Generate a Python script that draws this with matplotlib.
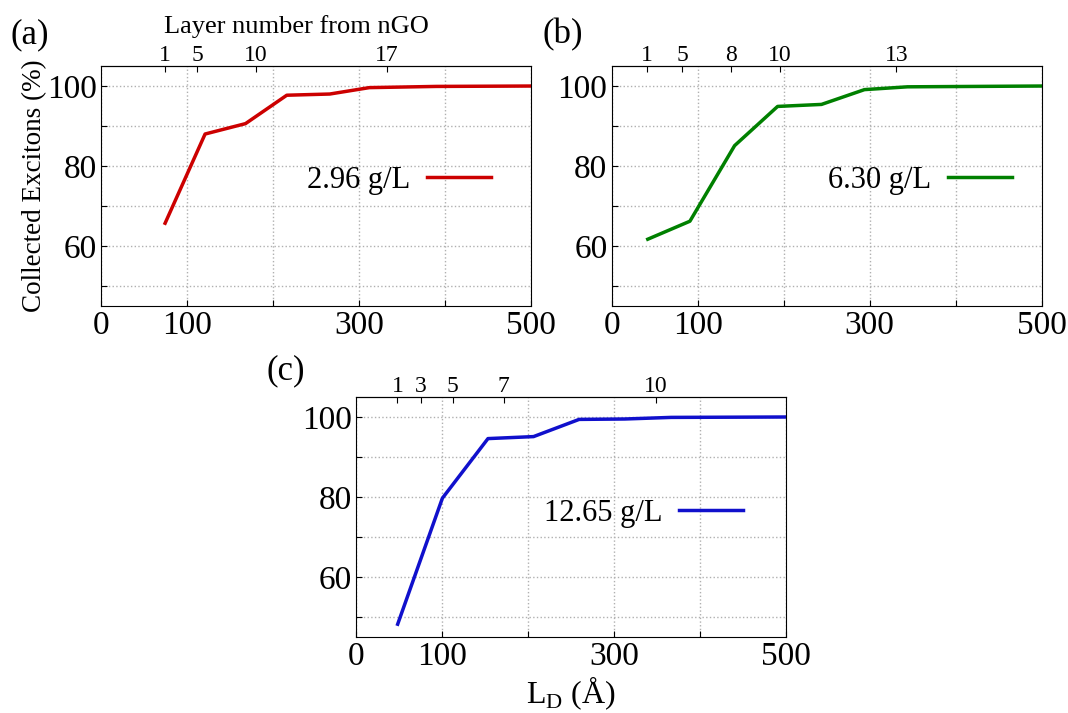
import matplotlib
matplotlib.use("Agg")
import matplotlib.pyplot as plt

plt.rcParams['font.family'] = ['Liberation Serif', 'DejaVu Serif']
plt.rcParams['mathtext.fontset'] = 'custom'
plt.rcParams['mathtext.rm'] = 'Liberation Serif'

# L_D (Angstrom) vs collected excitons (%)
ld_a = [74.5, 121, 168, 216, 266, 312, 390, 500]
ex_a = [65.7, 88.0, 90.6, 97.7, 98.0, 99.6, 99.9, 100.0]
ld_b = [42, 91, 143, 193, 244, 294, 344, 500]
ex_b = [61.7, 66.2, 85.1, 94.9, 95.4, 99.1, 99.8, 100.0]
ld_c = [48, 100, 153, 206, 259, 312, 366, 500]
ex_c = [48.2, 79.7, 94.6, 95.1, 99.4, 99.5, 99.9, 100.0]

# top axis: layer number from nGO
layer_pos_a = [74.5, 111.6, 180.3, 332.8]
layer_lab_a = ["1", "5", "10", "17"]
layer_pos_b = [41.1, 82.2, 138.5, 195.5, 331.2]
layer_lab_b = ["1", "5", "8", "10", "13"]
layer_pos_c = [47.8, 74.8, 112.1, 171.1, 348.4]
layer_lab_c = ["1", "3", "5", "7", "10"]

panels = [
    ("(a)", ld_a, ex_a, "#cc0000", "2.96 g/L", layer_pos_a, layer_lab_a,
     [0.0946, 0.5708], (-0.21, 1.13), (0.693, 0.525)),
    ("(b)", ld_b, ex_b, "#008000", "6.30 g/L", layer_pos_b, layer_lab_b,
     [0.5727, 0.5708], (-0.16, 1.13), (0.718, 0.525)),
    ("(c)", ld_c, ex_c, "#1010cc", "12.65 g/L", layer_pos_c, layer_lab_c,
     [0.3337, 0.1066], (-0.21, 1.11), (0.668, 0.515)),
]

fig = plt.figure(figsize=(10.68, 7.13), dpi=100)

for tag, x, y, col, lab, lpos, llab, pos, tpos, legpos in panels:
    ax = fig.add_axes([pos[0], pos[1], 0.4026, 0.3366])
    ax.plot(x, y, color=col, lw=2.5, label=lab)
    ax.set_xlim(0, 500)
    ax.set_ylim(45, 105)
    ax.set_xticks([0, 100, 200, 300, 400, 500])
    ax.set_xticklabels(["0", "100", "", "300", "", "500"])
    ax.set_yticks([50, 60, 70, 80, 90, 100])
    ax.set_yticklabels(["", "60", "", "80", "", "100"])
    ax.tick_params(direction='in', length=4, labelsize=24, pad=3)
    ax.grid(True, ls=':', color='#b0b0b0', lw=1)
    ax.legend(loc='center', bbox_to_anchor=legpos, frameon=False,
              markerfirst=False, fontsize=22, handlelength=2.1,
              handletextpad=0.55)
    top = ax.secondary_xaxis('top')
    top.set_xticks(lpos)
    top.set_xticklabels(llab)
    top.tick_params(direction='in', length=4, labelsize=17, pad=0)
    ax.text(tpos[0], tpos[1], tag, transform=ax.transAxes, fontsize=25,
            ha='left', va='center')
    if tag == "(a)":
        ax.set_ylabel("Collected Excitons (%)", fontsize=19.5, labelpad=0)
    if tag == "(c)":
        ax.set_xlabel(r"L$_\mathrm{D}$ (Å)", fontsize=23, labelpad=2)

fig.text(296 / 1068, 1 - 27 / 713, "Layer number from nGO", fontsize=19,
         ha='center', va='center')

fig.savefig("out.png", dpi=100)
